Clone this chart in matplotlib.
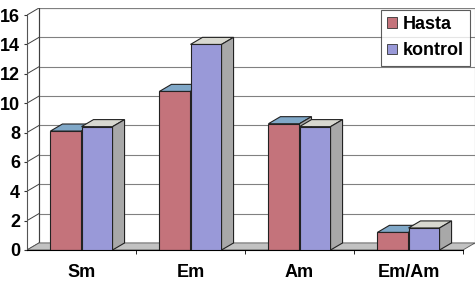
import matplotlib.pyplot as plt
import numpy as np
from matplotlib.patches import Polygon, Patch

plt.rcParams['font.family'] = ['Liberation Sans', 'DejaVu Sans']
plt.rcParams['font.weight'] = 'bold'

categories = ['Sm', 'Em', 'Am', 'Em/Am']
hasta = [8.1, 10.8, 8.6, 1.2]
kontrol = [8.4, 14.0, 8.4, 1.5]
yticks = [0, 2, 4, 6, 8, 10, 12, 14, 16]

front_cols = {'Hasta': '#C4737B', 'kontrol': '#9999D8'}
top_cols = {'Hasta': '#80A8C8', 'kontrol': '#D8D8D0'}
side_col = '#A8A8A8'
floor_col = '#C2C2C2'

# fake 3d depth in data units
ddx = 0.11
ddy = 0.48
width = 0.285

fig = plt.figure(figsize=(4.77, 2.84), dpi=100)
ax = fig.add_axes([27 / 477, 34 / 284, 448 / 477, 242 / 284])
ax.set_xlim(-0.5, 3.5 + ddx)
ax.set_ylim(0, 16 + ddy)
for s in ['top', 'right']:
    ax.spines[s].set_visible(False)
ax.spines['left'].set_bounds(0, 16)
ax.spines['bottom'].set_bounds(-0.5, 3.5)
ax.spines['left'].set_color('#555555')
ax.spines['left'].set_linewidth(0.8)

x0, x1 = -0.5, 3.5
# back wall + gridlines
ax.add_patch(Polygon([(x0 + ddx, ddy), (x1 + ddx, ddy), (x1 + ddx, 16 + ddy), (x0 + ddx, 16 + ddy)],
                     closed=True, facecolor='white', edgecolor='#777777', lw=0.8, zorder=0))
for v in yticks:
    ax.plot([x0 + ddx, x1 + ddx], [v + ddy, v + ddy], color='#808080', lw=0.8, zorder=0.5)
    ax.plot([x0, x0 + ddx], [v, v + ddy], color='#404040', lw=0.7, zorder=0.5)
ax.plot([x0 + ddx, x0 + ddx], [ddy, 16 + ddy], color='#404040', lw=0.8, zorder=0.5)
# floor
ax.add_patch(Polygon([(x0, 0), (x1, 0), (x1 + ddx, ddy), (x0 + ddx, ddy)],
                     closed=True, facecolor=floor_col, edgecolor='#555555', lw=0.6, zorder=0.6))

ind = np.arange(len(categories))


def bars3d(xs, vals, name, z):
    rects = ax.bar(xs, vals, width, color=front_cols[name], edgecolor='#222222', lw=0.8, zorder=z)
    for r in rects:
        l, w, h = r.get_x(), r.get_width(), r.get_height()
        ax.add_patch(Polygon([(l, h), (l + w, h), (l + w + ddx, h + ddy), (l + ddx, h + ddy)],
                             closed=True, facecolor=top_cols[name], edgecolor='#222222', lw=0.8, zorder=z))
        ax.add_patch(Polygon([(l + w, 0), (l + w + ddx, ddy), (l + w + ddx, h + ddy), (l + w, h)],
                             closed=True, facecolor=side_col, edgecolor='#222222', lw=0.8, zorder=z))
    return rects


bars3d(ind - width / 2, hasta, 'Hasta', 2)
bars3d(ind + width / 2, kontrol, 'kontrol', 3)

ax.set_yticks(yticks)
ax.set_yticklabels([str(v) for v in yticks], fontsize=13, fontweight='bold')
ax.tick_params(axis='y', length=2, pad=3, color='#333333')
ax.set_xticks(ind)
ax.set_xticklabels(categories, fontsize=13, fontweight='bold')
ax.tick_params(axis='x', length=0, pad=10)
ax.set_xticks(ind + 0.5, minor=True)
ax.tick_params(axis='x', which='minor', length=3, direction='out', color='black')

handles = [Patch(facecolor=front_cols['Hasta'], edgecolor='#333333', lw=0.6),
           Patch(facecolor=front_cols['kontrol'], edgecolor='#333333', lw=0.6)]
leg = fig.legend(handles, ['Hasta', 'kontrol'], loc='upper right',
                 bbox_to_anchor=(470 / 477, 1 - 10 / 284), fontsize=13,
                 frameon=True, fancybox=False, edgecolor='#333333',
                 handlelength=0.55, handleheight=0.55, handletextpad=0.3,
                 labelspacing=0.5, borderpad=0.35, borderaxespad=0)
leg.get_frame().set_linewidth(0.8)
for t in leg.get_texts():
    t.set_fontweight('bold')

fig.savefig('out.png', dpi=100)
